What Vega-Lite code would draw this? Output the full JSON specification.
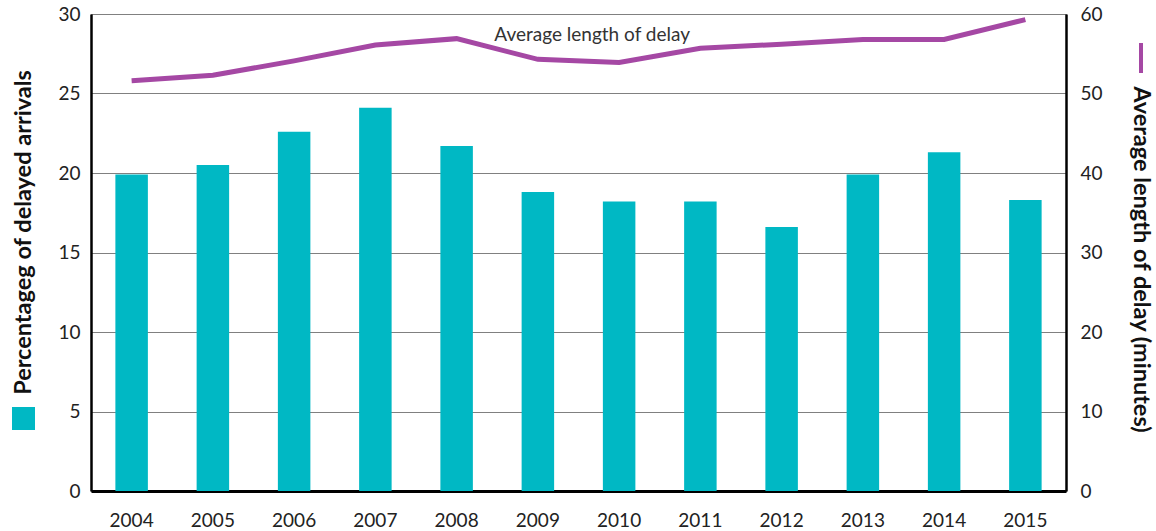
{
  "$schema": "https://vega.github.io/schema/vega-lite/v6.json",
  "width": 975,
  "height": 477,
  "autosize": {"type": "none"},
  "padding": {"left": 91, "top": 14, "right": 90, "bottom": 40},
  "config": {
    "font": "Lato",
    "view": {"stroke": null},
    "axis": {
      "labelFont": "Lato",
      "labelFontSize": 19,
      "labelColor": "#222222",
      "titleFont": "Lato",
      "titleFontSize": 23.5,
      "titleFontWeight": "bold",
      "titleColor": "#111111",
      "domainColor": "#000000",
      "ticks": false
    }
  },
  "data": {
    "values": [
      {"year": 2004, "pct": 19.9, "delay": 51.6},
      {"year": 2005, "pct": 20.5, "delay": 52.3},
      {"year": 2006, "pct": 22.6, "delay": 54.1},
      {"year": 2007, "pct": 24.1, "delay": 56.1},
      {"year": 2008, "pct": 21.7, "delay": 56.9},
      {"year": 2009, "pct": 18.8, "delay": 54.3},
      {"year": 2010, "pct": 18.2, "delay": 53.9},
      {"year": 2011, "pct": 18.2, "delay": 55.7},
      {"year": 2012, "pct": 16.6, "delay": 56.2},
      {"year": 2013, "pct": 19.9, "delay": 56.8},
      {"year": 2014, "pct": 21.3, "delay": 56.8},
      {"year": 2015, "pct": 18.3, "delay": 59.3}
    ]
  },
  "layer": [
    {
      "mark": {"type": "bar"},
      "encoding": {
        "x": {
          "field": "year",
          "type": "ordinal",
          "scale": {"paddingInner": 0.6, "paddingOuter": 0.3},
          "axis": {
            "title": null,
            "labelAngle": 0,
            "labelPadding": 20,
            "domainWidth": 3,
            "grid": false
          }
        },
        "y": {
          "field": "pct",
          "type": "quantitative",
          "scale": {"domain": [0, 30]},
          "axis": {
            "orient": "left",
            "values": [0, 5, 10, 15, 20, 25, 30],
            "labelPadding": 11,
            "domainWidth": 2.5,
            "grid": true,
            "gridDash": [1, 1],
            "gridColor": "#000000",
            "gridWidth": 1,
            "title": "Percentageg of delayed arrivals",
            "titleAngle": -90,
            "titleX": -68,
            "titleY": 218,
            "titleAlign": "center",
            "titleBaseline": "middle"
          }
        },
        "fill": {
          "datum": "Percentageg of delayed arrivals",
          "type": "nominal",
          "scale": {"range": ["#00B8C4"]},
          "legend": {
            "orient": "none",
            "legendX": -79,
            "legendY": 393,
            "title": null,
            "symbolType": "square",
            "symbolSize": 529,
            "symbolStrokeWidth": 0,
            "labelExpr": "''"
          }
        }
      }
    },
    {
      "layer": [
        {
          "mark": {"type": "line", "strokeWidth": 5},
          "encoding": {
            "x": {"field": "year", "type": "ordinal"},
            "y": {
              "field": "delay",
              "type": "quantitative",
              "scale": {"domain": [0, 60]},
              "axis": {
                "orient": "right",
                "values": [0, 10, 20, 30, 40, 50, 60],
                "labelPadding": 14,
                "domainWidth": 2.5,
                "grid": false,
                "title": "Average length of delay (minutes)",
                "titleAngle": 90,
                "titleX": 74,
                "titleY": 245,
                "titleAlign": "center",
                "titleBaseline": "middle"
              }
            },
            "stroke": {
              "datum": "Average length of delay",
              "type": "nominal",
              "scale": {"range": ["#A548A4"]},
              "legend": {
                "orient": "none",
                "legendX": 1033,
                "legendY": 27,
                "title": null,
                "symbolType": "M0,-1L0,1",
                "symbolSize": 900,
                "symbolStrokeWidth": 4,
                "labelExpr": "''"
              }
            }
          }
        },
        {
          "data": {"values": [{"year": 2010, "delay": 57.4, "label": "Average length of delay"}]},
          "mark": {"type": "text", "fontSize": 19, "color": "#333333", "align": "center", "baseline": "middle", "dx": -27},
          "encoding": {
            "x": {"field": "year", "type": "ordinal"},
            "y": {"field": "delay", "type": "quantitative"},
            "text": {"field": "label"}
          }
        }
      ]
    }
  ],
  "resolve": {"scale": {"y": "independent"}}
}
